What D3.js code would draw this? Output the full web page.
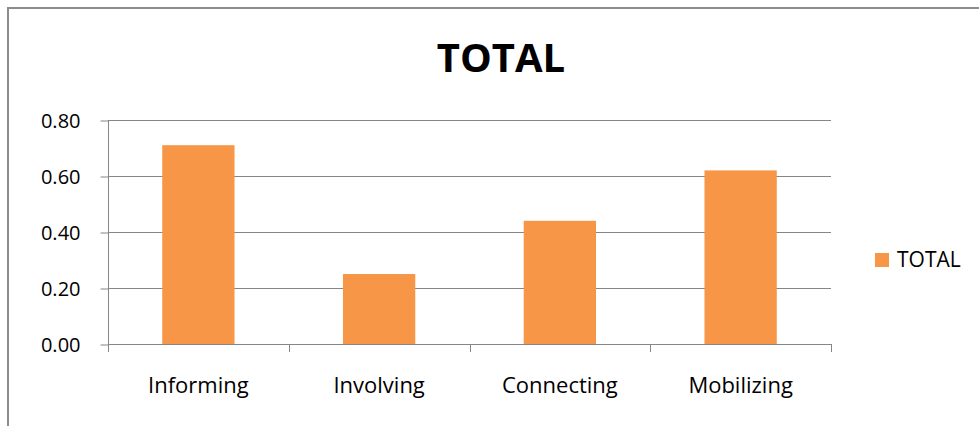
<!DOCTYPE html>
<html>
<head>
<meta charset="utf-8">
<script src="https://cdn.jsdelivr.net/npm/d3@7/dist/d3.min.js"></script>
<style>
  html, body { margin: 0; padding: 0; background: #fff; }
  svg { display: block; }
  text { font-family: "Open Sans", "Liberation Sans", sans-serif; fill: #000; }
</style>
</head>
<body>
<svg id="chart" width="979" height="426"></svg>
<script>
const categories = ["Informing", "Involving", "Connecting", "Mobilizing"];
const totalValues = [0.71, 0.25, 0.44, 0.62];
const yTicks = [0, 0.2, 0.4, 0.6, 0.8];
const seriesName = "TOTAL";
const chartTitle = "TOTAL";

const svg = d3.select("#chart");
const W = 979, H = 426;
const plot = { left: 108, right: 831, top: 120, bottom: 344 };
const axisColor = "#868686";
const barColor = "#F79646";

// chart frame
svg.append("rect")
  .attr("x", 8).attr("y", 8)
  .attr("width", W + 20).attr("height", H + 20)
  .attr("fill", "#fff")
  .attr("stroke", "#8c8c8c").attr("stroke-width", 2);

const x = d3.scaleBand().domain(categories)
  .range([plot.left, plot.right])
  .paddingInner(0.6).paddingOuter(0.3);
const xEdges = d3.scaleLinear().domain([0, categories.length]).range([plot.left, plot.right]);
const y = d3.scaleLinear().domain([0, 0.8]).range([plot.bottom, plot.top]);

// gridlines
svg.append("g").selectAll("line").data(yTicks.filter(d => d > 0)).join("line")
  .attr("x1", plot.left).attr("x2", plot.right)
  .attr("y1", d => Math.round(y(d)) + 0.5).attr("y2", d => Math.round(y(d)) + 0.5)
  .attr("stroke", axisColor).attr("stroke-width", 1);

// bars
svg.append("g").selectAll("rect").data(categories).join("rect")
  .attr("x", d => x(d))
  .attr("width", x.bandwidth())
  .attr("y", (d, i) => y(totalValues[i]))
  .attr("height", (d, i) => plot.bottom - y(totalValues[i]))
  .attr("fill", barColor);

// y axis
const yAxis = d3.axisLeft(y).tickValues(yTicks).tickFormat(d3.format(".2f"))
  .tickSize(8).tickPadding(20);
const gy = svg.append("g").attr("transform", `translate(${plot.left + 0.5},0.5)`).call(yAxis);
gy.select(".domain").attr("stroke", axisColor).attr("d", `M0,${plot.top - 0.5}V${plot.bottom}`);
gy.selectAll(".tick line").attr("stroke", axisColor);
gy.selectAll(".tick text").attr("font-size", 20).attr("fill", "#000")
  .attr("font-family", "'Open Sans', sans-serif").attr("dy", "0.36em");

// x axis baseline and tick marks between categories
const gx = svg.append("g");
gx.append("line")
  .attr("x1", plot.left).attr("x2", plot.right)
  .attr("y1", plot.bottom + 0.5).attr("y2", plot.bottom + 0.5)
  .attr("stroke", axisColor).attr("stroke-width", 1);
gx.selectAll("line.tk").data(d3.range(categories.length + 1)).join("line")
  .attr("class", "tk")
  .attr("x1", d => Math.round(xEdges(d)) + 0.5).attr("x2", d => Math.round(xEdges(d)) + 0.5)
  .attr("y1", plot.bottom).attr("y2", plot.bottom + 8)
  .attr("stroke", axisColor);
gx.selectAll("text").data(categories).join("text")
  .attr("x", d => x(d) + x.bandwidth() / 2)
  .attr("y", 393)
  .attr("text-anchor", "middle")
  .attr("font-size", 22)
  .text(d => d);

// title
svg.append("text")
  .attr("x", 501).attr("y", 72)
  .attr("text-anchor", "middle")
  .attr("font-size", 40).attr("font-weight", "bold")
  .text(chartTitle);

// legend
svg.append("rect").attr("x", 875).attr("y", 253).attr("width", 14).attr("height", 14).attr("fill", barColor);
svg.append("text").attr("x", 897).attr("y", 267).attr("font-size", 21).text(seriesName);
</script>
</body>
</html>
